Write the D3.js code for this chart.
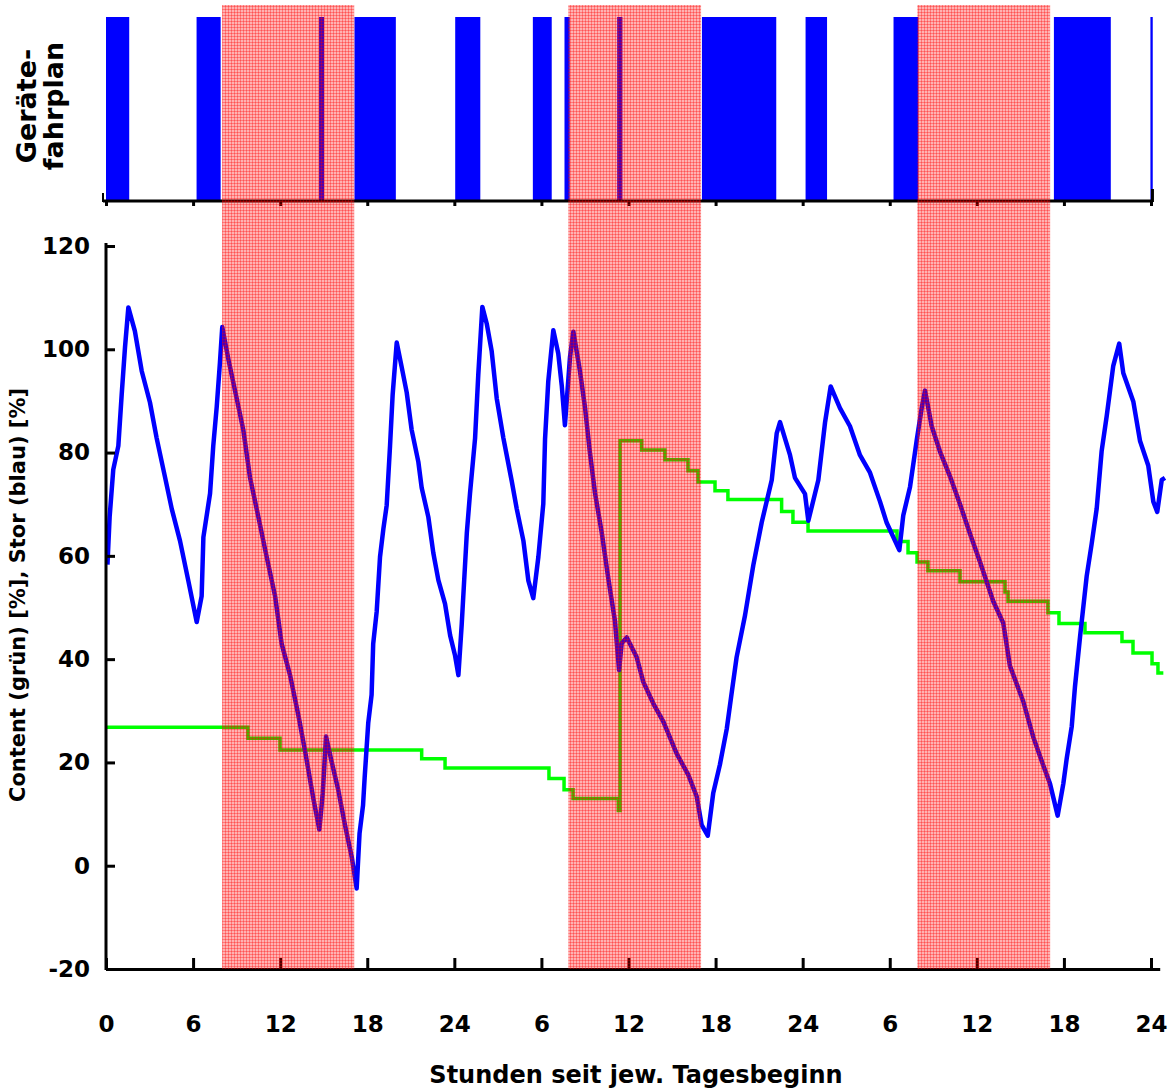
<!DOCTYPE html>
<html>
<head>
<meta charset="utf-8">
<script src="https://cdn.jsdelivr.net/npm/d3@7"></script>
<style>
  body { margin: 0; background: #fff; }
  svg { display: block; }
  text { font-family: "DejaVu Sans", sans-serif; font-weight: bold; fill: #000; }
</style>
</head>
<body>
<div id="chart"></div>
<script>
// hours since start of day 1
const redPeriods = [[8.0, 17.1], [31.85, 41.0], [55.9, 65.05]];

const scheduleOn = [
    [0, 1.6], [6.24, 7.9], [14.68, 15.02], [17.12, 19.97], [24.06, 25.79],
    [29.41, 30.71], [31.59, 31.95], [35.22, 35.58], [41.06, 46.18], [48.2, 49.68],
    [54.26, 55.97], [65.31, 69.23], [71.96, 72.12]
];

// Content (grün), step values
const contentHours = [0, 9.78, 11.99, 21.75, 23.36, 30.52, 31.56, 32.18, 35.3, 35.42, 36.91, 38.51, 40.1, 40.79,
    41.96, 42.85, 46.55, 47.33, 48.37, 54.5, 55.26, 55.88, 56.63, 58.84, 61.94, 62.15, 64.9, 65.66,
    67.45, 70.0, 70.76, 72.07, 72.48, 72.85];
const contentValues = [26.8, 24.7, 22.4, 20.7, 18.9, 16.9, 14.7, 13.0, 10.7, 82.3, 80.5, 78.6, 76.5, 74.3,
    72.6, 70.9, 68.6, 66.5, 64.8, 62.8, 60.6, 58.8, 57.1, 55.0, 53.0, 51.2, 49.0, 46.9,
    45.1, 43.4, 41.2, 39.1, 37.3, 37.3];

// Stor (blau)
const storHours = [0.1, 0.25, 0.5, 0.85, 1.08, 1.31, 1.54, 1.99, 2.46, 3.03, 3.49, 4.07, 4.53, 5.1, 5.67, 6.25,
    6.59, 6.71, 7.17, 7.39, 7.63, 7.85, 8.01, 8.43, 8.89, 9.46, 9.92, 10.5, 11.07, 11.65, 12.1, 12.68,
    13.25, 13.71, 14.28, 14.7, 14.93, 15.16, 15.55, 16.0, 16.47, 16.93, 17.27,
    17.47, 17.71, 17.82, 18.07, 18.3, 18.41, 18.65, 18.88, 19.11, 19.34, 19.57, 19.75, 20.03, 20.37,
    20.72, 21.06, 21.52, 21.75, 22.21, 22.55, 22.9, 23.36, 23.71, 24.05, 24.28, 24.51, 24.86, 25.08,
    25.43, 25.65, 25.93, 26.23, 26.57, 26.92, 27.38, 27.96, 28.3, 28.76, 29.1, 29.44, 29.79,
    30.13, 30.25, 30.47, 30.82, 31.16, 31.4, 31.62, 31.97, 32.2, 32.66, 33.0, 33.35, 33.69, 34.15,
    34.61, 35.07, 35.35, 35.53, 35.88, 36.56, 37.02, 37.71, 38.4, 39.32, 40.12, 40.7, 41.04, 41.46,
    41.84, 42.3, 42.77, 43.11, 43.45, 44.03, 44.6, 45.18, 45.87, 46.21, 46.44, 47.13, 47.47, 48.16,
    48.39, 49.08, 49.54, 49.93, 50.57, 51.26, 51.95, 52.64, 53.33, 53.79, 54.66, 54.93, 55.4, 55.86,
    56.2, 56.43, 56.89, 57.46, 58.15, 58.84, 59.53, 60.22, 61.13, 61.82, 62.28, 63.2, 63.89, 64.58,
    65.04, 65.57, 65.96, 66.19, 66.54, 66.76, 67.11, 67.57, 67.91, 68.26, 68.6, 68.95, 69.4, 69.81,
    70.09, 70.78, 71.24, 71.81, 72.16, 72.43, 72.74, 72.96];
const storValues = [58.3, 67.5, 76.7, 81.3, 91.2, 100.4, 108.1, 103.5, 95.8, 89.7, 82.8, 75.2, 69.1, 62.9, 55.2, 47.2,
    52.2, 63.6, 72.1, 81.3, 88.9, 97.4, 104.3, 98.1, 92.0, 84.4, 75.2, 67.5, 59.8, 52.2, 43.0, 36.9,
    29.2, 22.3, 13.1, 7.0, 13.9, 25.0, 20.1, 14.7, 7.8, 1.7, -4.4,
    6.3, 11.7, 17.0, 27.7, 33.1, 43.0, 49.2, 59.8, 65.2, 69.8, 81.3, 91.2, 101.3, 96.6,
    91.6, 84.4, 78.2, 73.2, 67.5, 60.6, 55.3, 50.7, 44.6, 40.7, 36.9, 46.8, 64.4, 72.1,
    82.8, 95.1, 108.2, 105.0, 99.7, 90.5, 82.8, 74.4, 69.1, 62.9, 55.2, 51.8, 59.8,
    70.1, 82.6, 93.7, 103.7, 99.2, 93.0, 85.3, 98.5, 103.4, 95.7, 88.8, 79.8, 72.2, 64.6,
    55.6, 47.3, 37.9, 43.1, 44.2, 40.4, 35.6, 31.4, 27.9, 21.7, 17.6, 13.4, 7.9, 5.8,
    14.1, 19.6, 26.5, 33.5, 40.4, 48.5, 58.2, 66.5, 74.7, 83.7, 85.9, 79.5, 75.1, 72.0,
    66.8, 74.7, 85.8, 92.8, 88.6, 85.1, 79.5, 76.1, 70.5, 66.4, 61.1, 67.8, 73.4, 82.4,
    88.6, 92.0, 85.1, 80.2, 75.4, 70.0, 64.3, 58.8, 51.2, 47.0, 38.7, 31.8, 24.9, 19.4,
    15.9, 9.7, 15.9, 20.7, 27.0, 34.6, 44.3, 56.1, 62.3, 69.2, 80.3, 87.1, 96.8, 101.1,
    95.4, 89.9, 82.3, 77.5, 70.5, 68.5, 74.7, 75.1];

const xTickHours = [0, 6, 12, 18, 24, 30, 36, 42, 48, 54, 60, 66, 72];
const xTickLabels = ["0", "6", "12", "18", "24", "6", "12", "18", "24", "6", "12", "18", "24"];
const yTicks = [-20, 0, 20, 40, 60, 80, 100, 120];

const width = 1168;
const height = 1092;

const svg = d3.select("#chart")
    .append("svg")
    .attr("width", width)
    .attr("height", height);

const x = d3.scaleLinear().domain([0, 72]).range([106, 1151]);
const y = d3.scaleLinear().domain([-20, 120]).range([969, 246]);
const barTop = 17, barBottom = 200;

// pattern for the hatched red periods
const defs = svg.append("defs");
const pat = defs.append("pattern")
    .attr("id", "hatch")
    .attr("patternUnits", "userSpaceOnUse")
    .attr("width", 3)
    .attr("height", 3);
pat.append("rect").attr("width", 3).attr("height", 3).attr("fill", "rgba(255,0,0,0.3)");
pat.append("rect").attr("width", 1).attr("height", 3).attr("fill", "rgba(255,0,0,0.32)");
pat.append("rect").attr("width", 3).attr("height", 1).attr("fill", "rgba(255,0,0,0.32)");

// Gerätefahrplan bars
svg.append("g")
    .selectAll("rect")
    .data(scheduleOn)
    .enter()
    .append("rect")
    .attr("x", d => x(d[0]))
    .attr("y", barTop)
    .attr("width", d => Math.max(2, x(d[1]) - x(d[0])))
    .attr("height", barBottom - barTop)
    .attr("fill", "#0000ff");

// top panel axis
const topAxis = d3.axisBottom(x)
    .tickValues(xTickHours)
    .tickFormat("")
    .tickSizeInner(5)
    .tickSizeOuter(0);
const gTop = svg.append("g")
    .attr("transform", `translate(0,${barBottom + 1})`)
    .call(topAxis);
gTop.select(".domain").attr("d", `M${x(0) - 3},0H${x(72.1)}`);
gTop.selectAll("path, line").attr("stroke", "#000").attr("stroke-width", 3);
gTop.append("line")
    .attr("x1", x(0) - 3).attr("x2", x(0) - 3)
    .attr("y1", -8).attr("y2", 1)
    .attr("stroke", "#000").attr("stroke-width", 2);
gTop.append("line")
    .attr("x1", x(72.1)).attr("x2", x(72.1))
    .attr("y1", -12).attr("y2", 1)
    .attr("stroke", "#000").attr("stroke-width", 3);

// lines
const green = d3.line()
    .x(d => x(d[0]))
    .y(d => y(d[1]))
    .curve(d3.curveStepAfter);
svg.append("path")
    .datum(contentHours.map((h, i) => [h, contentValues[i]]))
    .attr("d", green)
    .attr("fill", "none")
    .attr("stroke", "#00ff00")
    .attr("stroke-width", 3.5);

const blue = d3.line()
    .x(d => x(d[0]))
    .y(d => y(d[1]));
svg.append("path")
    .datum(storHours.map((h, i) => [h, storValues[i]]))
    .attr("d", blue)
    .attr("fill", "none")
    .attr("stroke", "#0000ff")
    .attr("stroke-width", 4.5)
    .attr("stroke-linejoin", "round");

// bottom axes
const xAxisScale = x.copy().domain([0, 72.6]).range([x(0), x(72.6)]);
const xAxis = d3.axisBottom(xAxisScale)
    .tickValues(xTickHours)
    .tickFormat((d, i) => xTickLabels[i])
    .tickSizeInner(-11)
    .tickSizeOuter(0)
    .tickPadding(47);
const gx = svg.append("g")
    .attr("transform", `translate(0,${y(-20)})`)
    .call(xAxis);

const yAxis = d3.axisLeft(y)
    .tickValues(yTicks)
    .tickFormat(d => String(d))
    .tickSizeInner(-9)
    .tickSizeOuter(0)
    .tickPadding(16);
const gy = svg.append("g")
    .attr("transform", `translate(${x(0)},0)`)
    .call(yAxis);
gy.select(".domain").attr("d", `M0,${y(120) - 3}V${y(-20) + 1}`);

[gx, gy].forEach(g => {
    g.selectAll("path, line").attr("stroke", "#000").attr("stroke-width", 3);
    g.selectAll("text").style("font-size", "23px").attr("fill", "#000");
});

// red periods on top of everything
svg.append("g")
    .selectAll("rect")
    .data(redPeriods)
    .enter()
    .append("rect")
    .attr("x", d => x(d[0]))
    .attr("y", 5)
    .attr("width", d => x(d[1]) - x(d[0]))
    .attr("height", y(-20) - 5)
    .attr("fill", "url(#hatch)");

// titles
svg.append("text")
    .attr("x", 636)
    .attr("y", 1083)
    .attr("text-anchor", "middle")
    .style("font-size", "24px")
    .text("Stunden seit jew. Tagesbeginn");

svg.append("text")
    .attr("transform", "translate(25,595) rotate(-90)")
    .attr("text-anchor", "middle")
    .style("font-size", "21px")
    .text("Content (grün) [%], Stor (blau) [%]");

svg.append("text")
    .attr("transform", "translate(36,106) rotate(-90)")
    .attr("text-anchor", "middle")
    .style("font-size", "27px")
    .text("Geräte-");
svg.append("text")
    .attr("transform", "translate(63,106) rotate(-90)")
    .attr("text-anchor", "middle")
    .style("font-size", "27px")
    .text("fahrplan");
</script>
</body>
</html>
